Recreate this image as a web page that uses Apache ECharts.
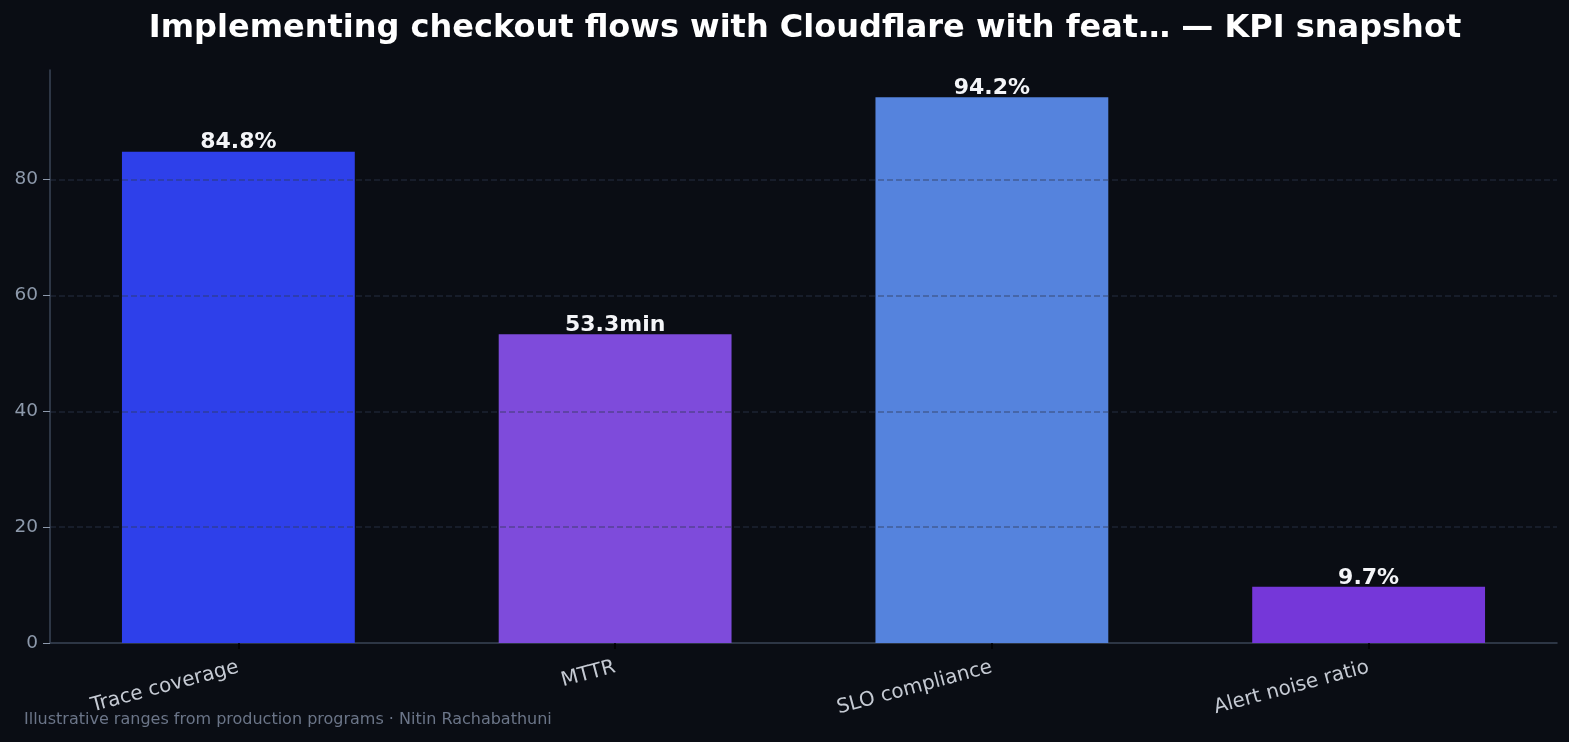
<!DOCTYPE html>
<html>
<head>
<meta charset="utf-8">
<style>
  html, body { margin: 0; padding: 0; background: #0a0d14; }
  #chart { width: 1569px; height: 742px; }
</style>
<script src="https://cdn.jsdelivr.net/npm/echarts@6/dist/echarts.min.js"></script>
</head>
<body>
<div id="chart"></div>
<script>
const categories = ['Trace coverage', 'MTTR', 'SLO compliance', 'Alert noise ratio'];
const values = [84.8, 53.3, 94.2, 9.7];
const units = ['%', 'min', '%', '%'];
const barColors = ['#2e40ea', '#7e4bdb', '#5583dd', '#7537d9'];
const yTicks = [0, 20, 40, 60, 80];
const titleText = 'Implementing checkout flows with Cloudflare with feat\u2026 \u2014 KPI snapshot';
const footText = 'Illustrative ranges from production programs \u00b7 Nitin Rachabathuni';

const chart = echarts.init(document.getElementById('chart'), null, { renderer: 'canvas' });
const font = 'DejaVu Sans';
chart.setOption({
  backgroundColor: '#0a0d14',
  animation: false,
  title: {
    text: titleText,
    left: 800, top: 8, textAlign: 'center',
    textStyle: { color: '#ffffff', fontFamily: font, fontWeight: 'bold', fontSize: 32 }
  },
  graphic: [{
    type: 'text', left: 24, top: 712,
    style: { text: footText, fill: '#6b7588', font: '16px "DejaVu Sans"' }
  }],
  grid: { left: 50, right: 12, top: 70, bottom: 99 },
  xAxis: {
    type: 'category',
    data: categories,
    boundaryGap: true,
    axisLine: { show: true, lineStyle: { color: '#3a4456', width: 1.5 } },
    axisTick: { show: true, alignWithLabel: true, length: 6, lineStyle: { color: '#000000', width: 1.5 } },
    axisLabel: { color: '#c5cad3', fontFamily: font, fontSize: 20, rotate: 15, margin: 24, interval: 0 },
    splitLine: { show: false }
  },
  yAxis: {
    type: 'value',
    min: 0, max: 98.91, interval: 20,
    z: 5,
    axisLine: { show: true, lineStyle: { color: '#3a4456', width: 1.5 } },
    axisTick: { show: true, length: 7, lineStyle: { color: '#8d99ab', width: 1 } },
    axisLabel: {
      color: '#8d99ab', fontFamily: font, fontSize: 18.5, margin: 12, showMaxLabel: false,
      formatter: v => (yTicks.indexOf(v) >= 0 ? String(v) : '')
    },
    splitLine: {
      show: true, showMinLine: false, showMaxLine: false,
      lineStyle: { color: 'rgba(45,58,82,0.5)', type: [6, 3], width: 1.6 }
    }
  },
  series: [{
    type: 'bar',
    z: 1,
    barWidth: '61.8%',
    data: values.map((v, i) => ({ value: v, itemStyle: { color: barColors[i] } })),
    label: {
      show: true, position: 'top', distance: -2,
      color: '#f4f5f8', fontFamily: font, fontWeight: 'bold', fontSize: 22,
      formatter: p => p.value + units[p.dataIndex]
    }
  }]
});
</script>
</body>
</html>
